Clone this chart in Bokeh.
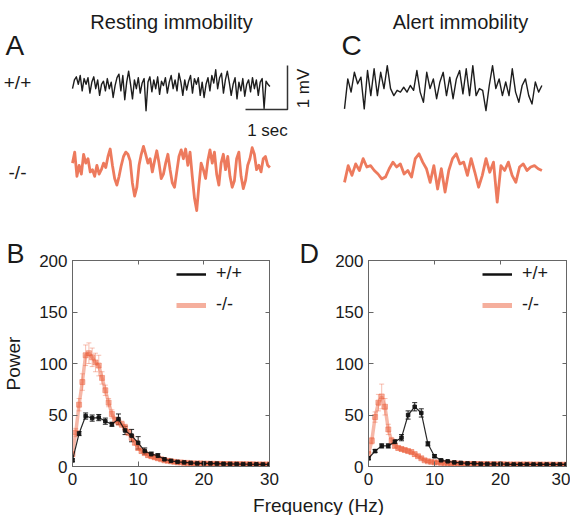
import numpy as np
from bokeh.plotting import figure
from bokeh.models import (Range1d, Label, LinearAxis, FixedTicker, Whisker,
                          ColumnDataSource, Legend, LegendItem, TeeHead, Title)
from bokeh.layouts import column, row
from bokeh.embed import file_html
from bokeh.resources import INLINE

# ------------------------------------------------------------------ data
freq_1hz = list(range(31))
freq_half = [i * 0.5 for i in range(61)]

# Panel B: resting immobility power spectra
rest_wt = [6, 32, 49, 47, 47.5, 44, 41, 46, 35, 30, 23, 15, 12, 10.5, 7, 5.5,
           4.5, 4, 3.5, 3, 3, 3, 2.8, 2.6, 2.5, 2.4, 2.3, 2.2, 2.1, 2, 2]
rest_wt_err = [1.5, 2, 3, 3, 3, 3, 2, 5, 4, 6, 6, 3, 2, 2, 1, 1,
               1, 1, 1, 1, 1, 1, 1, 1, 1, 1, 1, 1, 1, 1, 1]
rest_ko = [12, 33, 60, 82, 108, 110, 106, 101, 98, 86, 74, 62, 51, 45, 43, 41,
           38, 33, 28, 23, 18, 15, 13, 11, 10, 9, 8, 7, 6, 5.5, 5, 4.5,
           4, 4, 3.5, 3.5, 3, 3, 3, 3, 2.8, 2.7, 2.6, 2.6, 2.5, 2.5, 2.4, 2.4,
           2.3, 2.3, 2.2, 2.2, 2.2, 2.1, 2.1, 2.1, 2, 2, 2, 2, 2]
rest_ko_err = [2, 4, 6, 8, 10, 10, 9, 9, 10, 6, 5, 4, 4, 3, 3, 3,
               3, 3, 3, 2, 2, 2, 2, 2, 2, 2, 2, 1.5, 1.5, 1.5, 1.5, 1.5,
               1, 1, 1, 1, 1, 1, 1, 1, 1, 1, 1, 1, 1, 1, 1, 1,
               1, 1, 1, 1, 1, 1, 1, 1, 1, 1, 1, 1, 1]

# Panel D: alert immobility power spectra
alert_wt = [8, 15, 20, 20, 24, 28, 50, 58, 52, 22, 10, 6, 5, 4, 3.5, 3,
            3, 2.5, 2.5, 2.5, 2.5, 2, 2, 2, 2, 2, 2, 2, 2, 2, 2]
alert_wt_err = [1.5, 1.5, 2, 2, 2, 3, 4, 4, 4, 2, 1.5, 1, 1, 1, 1, 1,
                1, 1, 1, 1, 1, 1, 1, 1, 1, 1, 1, 1, 1, 1, 1]
alert_ko = [12, 25, 48, 62, 68, 58, 36, 25, 20, 18, 17, 16, 15, 14, 12, 10,
            8, 6, 5, 4.5, 4, 4, 3.5, 3.5, 3, 3, 3, 3, 2.5, 2.5, 2.5, 2.5,
            2.4, 2.4, 2.3, 2.3, 2.2, 2.2, 2.2, 2.1, 2.1, 2.1, 2, 2, 2, 2, 2, 2,
            2, 2, 1.9, 1.9, 1.9, 1.8, 1.8, 1.8, 1.8, 1.7, 1.7, 1.7, 1.7]
alert_ko_err = [2, 3, 5, 8, 12, 8, 5, 3, 2, 2, 2, 2, 2, 2, 2, 1.5,
                1.5, 1.5, 1, 1, 1, 1, 1, 1, 1, 1, 1, 1, 1, 1, 1, 1,
                1, 1, 1, 1, 1, 1, 1, 1, 1, 1, 1, 1, 1, 1, 1, 1,
                1, 1, 1, 1, 1, 1, 1, 1, 1, 1, 1, 1, 1]

# EEG example traces (mV), evenly sampled over TRACE_SECONDS
TRACE_SECONDS = 4.7
trace_rest_wt = [-0.05, 0.15, 0.22, 0.05, 0.25, -0.10, 0.18, 0.05, 0.20, -0.15,
                 0.10, 0.22, -0.05, 0.15, -0.20, 0.05, 0.12, -0.10, 0.18, -0.05,
                 0.10, -0.25, 0.02, 0.20, 0.28, -0.10, 0.25, -0.30, 0.10, 0.35,
                 0.05, -0.28, 0.15, -0.05, 0.20, -0.15, 0.08, 0.18, -0.55, 0.10,
                 0.22, -0.12, 0.15, -0.05, 0.22, -0.18, 0.12, 0.02, 0.20, -0.15,
                 0.10, 0.25, -0.05, 0.15, -0.10, 0.30, 0.10, -0.20, 0.15, -0.08,
                 0.12, 0.25, -0.15, 0.18, 0.05, 0.20, -0.20, 0.10, -0.25, 0.05,
                 0.20, -0.10, 0.25, 0.08, 0.38, -0.05, 0.20, 0.30, -0.15, 0.15,
                 0.35, 0.10, -0.20, 0.05, 0.20, -0.28, 0.10, -0.10, 0.18, -0.22,
                 0.05, 0.15, -0.12, 0.20, -0.05, 0.15, -0.20, 0.10, 0.18, -0.50,
                 0.12, 0.05, 0.0]
trace_rest_ko = [0.10, 0.35, -0.20, 0.05, -0.15, 0.30, 0.10, 0.20, -0.10, -0.05,
                 -0.20, 0.05, -0.15, -0.05, 0.10, 0.00, 0.25, 0.42, 0.05, -0.25,
                 -0.40, -0.20, 0.05, 0.25, 0.35, 0.30, 0.15, -0.35, -0.65, -0.45,
                 0.05, 0.30, 0.48, 0.30, 0.10, 0.20, -0.10, 0.15, 0.38, 0.10,
                 -0.25, -0.15, 0.10, 0.30, -0.05, -0.35, -0.45, -0.10, 0.25, 0.40,
                 0.20, 0.42, 0.05, 0.35, -0.20, -0.70, -0.98, -0.40, 0.10, -0.05,
                 -0.25, 0.15, 0.40, 0.10, 0.35, -0.15, -0.40, 0.10, 0.30, -0.05,
                 0.25, -0.20, -0.45, -0.30, 0.20, 0.35, -0.20, -0.48, -0.30, 0.05,
                 0.20, 0.45, 0.30, -0.05, 0.05, -0.10, 0.20, 0.25, 0.05, 0.00]
trace_alert_wt = [-0.53, 0.15, -0.15, 0.30, 0.04, 0.19, -0.53, 0.34, -0.23, 0.38,
                  -0.23, 0.30, -0.07, 0.45, -0.07, -0.23, -0.11, -0.15, -0.04, -0.15,
                  0.0, -0.11, 0.34, -0.15, -0.38, 0.30, -0.07, 0.15, -0.30, 0.08,
                  0.30, -0.23, 0.19, -0.30, 0.15, 0.34, -0.19, 0.38, -0.23, 0.45,
                  -0.23, -0.07, -0.11, -0.57, 0.0, 0.45, -0.07, 0.15, -0.23, 0.08,
                  -0.23, 0.38, -0.15, -0.38, 0.0, 0.15, -0.23, -0.42, 0.08, -0.15, 0.0]
trace_alert_ko = [-0.27, 0.11, -0.11, 0.15, 0.0, 0.27, 0.08, 0.11, 0.0, -0.08,
                  -0.19, -0.15, 0.04, 0.19, 0.08, 0.15, -0.08, 0.0, -0.15, 0.27,
                  0.38, 0.19, 0.04, -0.27, 0.11, -0.42, 0.04, -0.49, 0.0, 0.27,
                  0.38, 0.15, 0.19, -0.11, 0.27, -0.04, -0.38, -0.11, 0.27, -0.04,
                  0.19, -0.72, 0.11, 0.0, 0.19, -0.11, -0.27, 0.08, 0.15, 0.0,
                  0.08, 0.11, 0.04, 0.0]

SCALE_SEC = 1.0   # scale bar
SCALE_MV = 1.0

# ------------------------------------------------------------------ styles
FONT = "Liberation Sans"
TXT = "#1a1a1a"
AX = "#666666"
RED = "#EC5F3C"
RED_TRACE = "#E8542F"
BLACK = "#111111"

# ------------------------------------------------------------------ top panel (traces)
PX_SEC = 42.0
PX_MV = 44.0
TW, TH = 570, 236
top = figure(width=TW, height=TH, x_range=Range1d(0, TW / PX_SEC),
             y_range=Range1d(-TH / PX_MV, 0), x_axis_location=None,
             y_axis_location=None, min_border=0, output_backend="svg",
             toolbar_location=None)
top.grid.visible = False
top.outline_line_color = None


def X(px):
    return px / PX_SEC


def Y(py):
    return -py / PX_MV


def draw_trace(vals, x0, y0, color, width, alpha):
    t = X(x0) + np.linspace(0, TRACE_SECONDS, len(vals))
    v = Y(y0) + np.array(vals)
    top.line(t, v, line_color=color, line_width=width, line_alpha=alpha,
             line_join="round")


draw_trace(trace_rest_wt, 72, 86, BLACK, 1.4, 0.95)
draw_trace(trace_rest_ko, 72, 167, RED_TRACE, 2.8, 0.78)
draw_trace(trace_alert_wt, 344, 85, BLACK, 1.4, 0.95)
draw_trace(trace_alert_ko, 344, 170, RED_TRACE, 2.8, 0.78)

cx, cy = X(287), Y(109)
top.line([cx - SCALE_SEC, cx, cx], [cy, cy, cy + SCALE_MV], line_color="#333333",
         line_width=1.5)


def tlabel(text, x, y, size, align="left", baseline="alphabetic", angle=0):
    top.add_layout(Label(x=X(x), y=Y(y), text=text, text_font=FONT,
                         text_font_size=size, text_color=TXT, text_align=align,
                         text_baseline=baseline, angle=angle))


tlabel("Resting immobility", 171, 21, "20px", "center")
tlabel("Alert immobility", 460, 21, "20px", "center")
tlabel("A", 5, 45, "28px")
tlabel("C", 341, 45, "28px")
tlabel("+/+", 17, 82, "19px", "center", "middle")
tlabel("-/-", 17, 172, "19px", "center", "middle")
tlabel("1 sec", 267, 130, "17px", "center")
tlabel("1 mV", 303, 88, "17px", "center", "middle", np.pi / 2)


# ------------------------------------------------------------------ spectra
def spectrum(width, left, right, letter, letter_dx, ylabel):
    p = figure(width=width, height=252, x_range=Range1d(0, 30),
               y_range=Range1d(0, 200), min_border_left=left,
               min_border_right=right, min_border_top=24, min_border_bottom=22,
               output_backend="svg", toolbar_location=None)
    # panel letter as a left-aligned title pulled out to the figure's left edge
    p.title = Title(text=letter, align="left", offset=-letter_dx, standoff=-16,
                    text_font=FONT, text_font_size="27px",
                    text_font_style="normal", text_color=TXT)
    p.grid.visible = False
    p.outline_line_color = AX
    for ax in (p.xaxis[0], p.yaxis[0]):
        ax.axis_line_color = AX
        ax.major_tick_line_color = AX
        ax.major_tick_in = 5
        ax.major_tick_out = 0
        ax.minor_tick_line_color = None
        ax.major_label_text_font = FONT
        ax.major_label_text_font_size = "17px"
        ax.major_label_text_color = TXT
    p.xaxis.ticker = FixedTicker(ticks=[0, 10, 20, 30])
    p.yaxis.ticker = FixedTicker(ticks=[0, 50, 100, 150, 200])
    p.xaxis.major_label_standoff = 6
    p.yaxis.major_label_standoff = 5
    if ylabel:
        p.yaxis.axis_label = ylabel
        p.yaxis.axis_label_text_font = FONT
        p.yaxis.axis_label_text_font_size = "19px"
        p.yaxis.axis_label_text_font_style = "normal"
        p.yaxis.axis_label_text_color = TXT
        p.yaxis.axis_label_standoff = 12
    for loc, ticks in (("right", [0, 50, 100, 150, 200]), ("above", [0, 10, 20, 30])):
        a = LinearAxis(ticker=FixedTicker(ticks=ticks), major_tick_in=4,
                       major_tick_out=0, major_label_text_font_size="0px",
                       major_label_standoff=0, minor_tick_line_color=None,
                       axis_line_color=AX, major_tick_line_color=AX)
        p.add_layout(a, loc)
    return p


def add_series(p, f, vals, err, color, lw, la, msize, malpha, walpha):
    lo = [v - e for v, e in zip(vals, err)]
    hi = [v + e for v, e in zip(vals, err)]
    src = ColumnDataSource(dict(f=f, v=vals, lo=lo, hi=hi))
    p.line("f", "v", source=src, line_color=color, line_width=lw, line_alpha=la)
    p.scatter("f", "v", source=src, marker="square", size=msize,
              fill_color=color, line_color=color, fill_alpha=malpha,
              line_alpha=malpha)
    p.add_layout(Whisker(source=src, base="f", lower="lo", upper="hi",
                         line_color=color, line_alpha=walpha, line_width=1,
                         upper_head=TeeHead(size=5, line_color=color, line_alpha=walpha),
                         lower_head=TeeHead(size=5, line_color=color, line_alpha=walpha)))


def add_legend(p, lx):
    # legend swatches: renderers whose points lie outside the visible range
    lw = p.line([-50, -40], [-50, -40], line_color=BLACK, line_width=2.5)
    lk = p.line([-50, -40], [-50, -40], line_color=RED, line_width=5, line_alpha=0.5)
    leg = Legend(items=[LegendItem(label="+/+", renderers=[lw]),
                        LegendItem(label="-/-", renderers=[lk])],
                 location=(lx, 151), padding=0, margin=0, spacing=10,
                 glyph_width=30, glyph_height=20, label_height=20,
                 label_standoff=10, label_text_font=FONT,
                 label_text_font_size="18px", label_text_color=TXT,
                 border_line_color=None, background_fill_alpha=0)
    p.add_layout(leg)


pB = spectrum(300, 71, 31, "B", 66, "Power")
add_series(pB, freq_half, rest_ko, rest_ko_err, RED, 3.5, 0.45, 5, 0.45, 0.4)
add_series(pB, freq_1hz, rest_wt, rest_wt_err, BLACK, 1.2, 0.9, 3.5, 0.9, 0.9)
add_legend(pB, 104)

pD = spectrum(270, 68, 4, "D", 69, None)
add_series(pD, freq_half, alert_ko, alert_ko_err, RED, 3.5, 0.45, 5, 0.45, 0.4)
add_series(pD, freq_1hz, alert_wt, alert_wt_err, BLACK, 1.2, 0.9, 3.5, 0.9, 0.9)
add_legend(pD, 114)

# ------------------------------------------------------------------ shared x label
FH = 27
fx = figure(width=570, height=FH, x_range=Range1d(0, 570), y_range=Range1d(0, FH),
            x_axis_location=None, y_axis_location=None, min_border=0,
            output_backend="svg", toolbar_location=None)
fx.grid.visible = False
fx.outline_line_color = None
fx.add_layout(Label(x=318, y=0, text="Frequency (Hz)", text_font=FONT,
                    text_font_size="19px", text_color=TXT, text_align="center",
                    text_baseline="bottom"))

layout = column(top, row(pB, pD), fx)
open("out.html", "w").write(file_html(layout, INLINE))
